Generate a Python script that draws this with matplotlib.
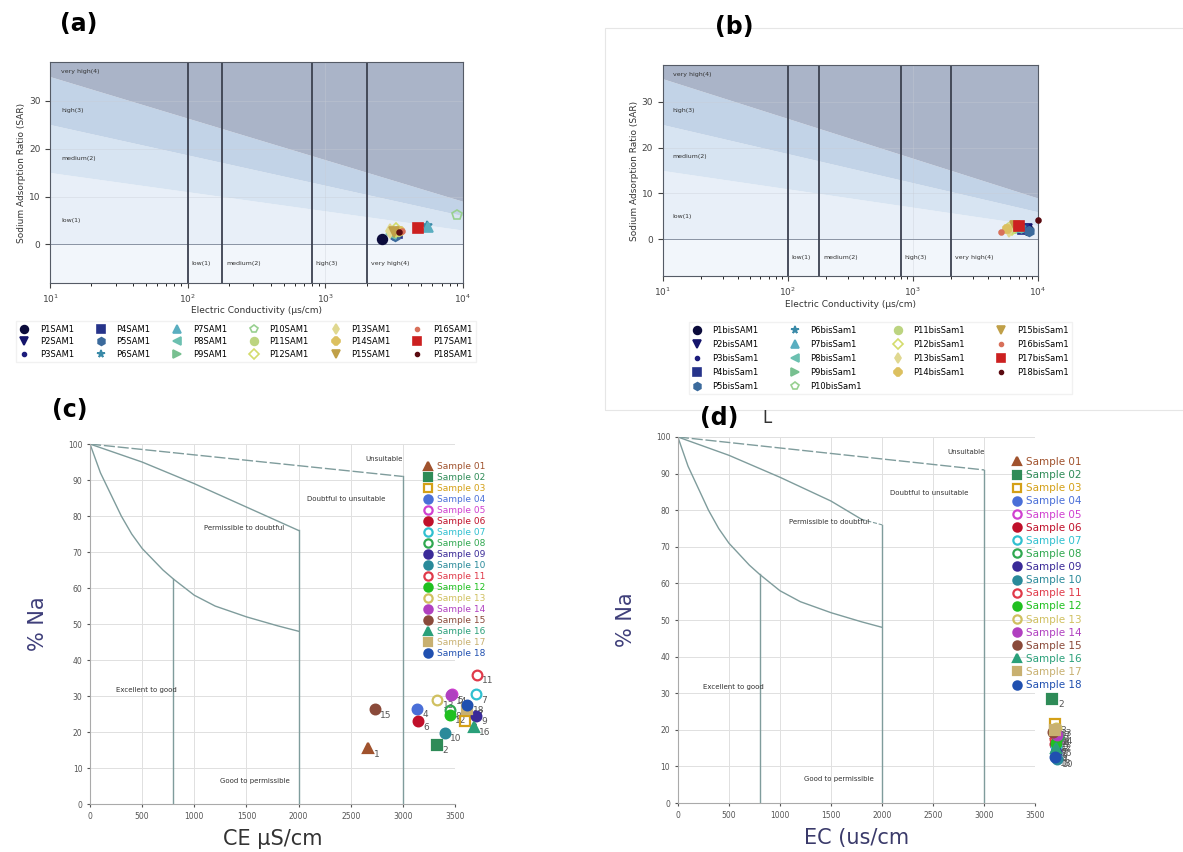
import matplotlib
matplotlib.use("Agg")
import matplotlib.pyplot as plt
from matplotlib.patches import Rectangle

# ---------------- data: SAR diagrams (a) and (b) ----------------
names_a = ["P1SAM1", "P2SAM1", "P3SAM1", "P4SAM1", "P5SAM1", "P6SAM1",
           "P7SAM1", "P8SAM1", "P9SAM1", "P10SAM1", "P11SAM1", "P12SAM1",
           "P13SAM1", "P14SAM1", "P15SAM1", "P16SAM1", "P17SAM1", "P18SAM1"]
ec_a = [2600, 3100, 2900, 3300, 3200, 5500, 5600, 3000, 3400,
        9100, 3350, 3250, 2950, 3500, 3150, 3600, 4700, 3450]
sar_a = [1.1, 2.0, 2.6, 2.3, 1.8, 3.9, 3.7, 2.2, 2.5,
         6.2, 2.9, 3.1, 2.9, 2.8, 2.7, 2.9, 3.5, 2.7]

names_b = ["P1bisSAM1", "P2bisSAM1", "P3bisSam1", "P4bisSam1", "P5bisSam1",
           "P6bisSam1", "P7bisSam1", "P8bisSam1", "P9bisSam1", "P10bisSam1",
           "P11bisSam1", "P12bisSam1", "P13bisSam1", "P14bisSam1",
           "P15bisSam1", "P16bisSam1", "P17bisSam1", "P18bisSam1"]
ec_b = [8300, 8100, 7900, 7600, 8500, 7300, 7000, 6800, 6500,
        6300, 6000, 6200, 5900, 5700, 6600, 5100, 7100, 10000]
sar_b = [2.0, 2.2, 2.4, 2.3, 1.9, 2.5, 2.6, 2.4, 2.2,
         2.3, 2.6, 2.4, 2.1, 2.3, 2.9, 1.5, 3.0, 4.3]

p_colors = ["#0b0b3b", "#14146b", "#1c1c7c", "#26338a", "#3b6a9c", "#3a8aa8",
            "#5aaec0", "#6cc0b0", "#78c090", "#98d090", "#bcd480", "#d4dc6c",
            "#e0d890", "#dcc060", "#c0a048", "#d8705a", "#cc2020", "#5a0a10"]
p_markers = ["o", "v", ".", "s", "h", "*", "^", "<", ">",
             "p", "o", "D", "d", "8", "v", ".", "s", "."]
p_hollow = [9, 11]

# salinity / sodium hazard class limits
class_ec = [100, 178, 800, 2000]
band_ec = [10, 10000]
sar_b1 = [15, 3]
sar_b2 = [25, 6]
sar_b3 = [35, 9]

# ---------------- data: Wilcox diagrams (c) and (d) ----------------
samples = ["Sample 01", "Sample 02", "Sample 03", "Sample 04", "Sample 05",
           "Sample 06", "Sample 07", "Sample 08", "Sample 09", "Sample 10",
           "Sample 11", "Sample 12", "Sample 13", "Sample 14", "Sample 15",
           "Sample 16", "Sample 17", "Sample 18"]
ec_c = [2670, 3330, 3600, 3140, 3470, 3145, 3700, 3450, 3700,
        3400, 3710, 3450, 3330, 3460, 2730, 3680, 3620, 3620]
na_c = [15.5, 16.5, 23.0, 26.5, 30.5, 23.0, 30.5, 26.0, 24.5,
        19.8, 35.8, 24.8, 29.0, 30.2, 26.3, 21.5, 26.5, 27.5]
ec_d = [3700, 3670, 3690, 3700, 3710, 3690, 3700, 3720, 3700,
        3710, 3690, 3700, 3700, 3710, 3680, 3700, 3690, 3690]
na_d = [19.0, 28.5, 21.5, 13.5, 17.0, 16.0, 15.5, 18.0, 14.0,
        12.0, 17.5, 16.5, 20.5, 18.5, 19.5, 15.0, 20.0, 12.5]

w_colors = ["#a0522d", "#2e8b57", "#d4a017", "#4a6fd8", "#d040d0", "#c0102a",
            "#30c0d0", "#30a850", "#3a2a98", "#2a8a9a", "#e03a4a", "#20c020",
            "#d0c060", "#b040c0", "#8a4a3a", "#2aa07a", "#c8b070", "#2050b0"]
w_markers = ["^", "s", "s", "o", "o", "o", "o", "o", "o",
             "o", "o", "o", "o", "o", "o", "^", "s", "o"]
w_hollow = [2, 4, 6, 7, 10, 12]

# Wilcox class boundaries
low_x = [0, 100, 200, 300, 400, 500, 600, 700, 800, 1000, 1200, 1500, 1800, 2000]
low_y = [100, 92, 86, 80, 75, 71, 68, 65, 62.5, 58, 55, 52, 49.5, 48]
mid_x = [0, 500, 1000, 1500, 2000]
mid_y = [100, 95, 89, 82.5, 76]
top_x = [0, 3000]
top_y = [100, 91]
vert_x = [800, 2000, 3000]
vert_top = [62.5, 76, 91]

fig = plt.figure(figsize=(11.83, 8.52), dpi=100)


def sar_panel(ax, ec, sar, names, leg_anchor, ncol, colspace, lsp):
    ax.set_xscale("log")
    ax.set_xlim(10, 10000)
    ax.set_ylim(-8, 38)
    ax.fill_between(band_ec, [-8, -8], [0, 0], color="#f2f6fb", lw=0)
    ax.fill_between(band_ec, [0, 0], sar_b1, color="#e8eff8", lw=0)
    ax.fill_between(band_ec, sar_b1, sar_b2, color="#d7e4f2", lw=0)
    ax.fill_between(band_ec, sar_b2, sar_b3, color="#c2d3e7", lw=0)
    ax.fill_between(band_ec, sar_b3, [38, 38], color="#aab4c8", lw=0)
    ax.grid(True, color="#c8ccd4", lw=0.5, alpha=0.5)
    ax.axhline(0, color="#8a93a3", lw=0.7)
    for x in class_ec:
        ax.axvline(x, color="#3c4150", lw=1.3)
    for txt, y in zip(["very high(4)", "high(3)", "medium(2)", "low(1)"], [36, 28, 18, 5]):
        ax.text(12, y, txt, fontsize=4.5, color="#333333", va="center")
    for txt, x in zip(["low(1)", "medium(2)", "high(3)", "very high(4)"], [106, 192, 850, 2150]):
        ax.text(x, -4, txt, fontsize=4.5, color="#333333", va="center")
    for i in range(len(names)):
        ax.plot(ec[i], sar[i], ls="none", marker=p_markers[i], ms=7,
                color=p_colors[i], mfc="none" if i in p_hollow else p_colors[i],
                mew=1.2, label=names[i], clip_on=False, zorder=5)
    ax.set_yticks([0, 10, 20, 30])
    ax.tick_params(labelsize=6.5, colors="#444444")
    ax.set_xlabel("Electric Conductivity (μs/cm)", fontsize=6.5, color="#333333", labelpad=1)
    ax.set_ylabel("Sodium Adsorption Ratio (SAR)", fontsize=6.5, color="#333333", labelpad=2)
    for s in ax.spines.values():
        s.set_color("#555b66")
    leg = ax.legend(loc="upper center", bbox_to_anchor=leg_anchor, ncol=ncol,
                    fontsize=6, frameon=True, edgecolor="#eeeeee", fancybox=False,
                    columnspacing=colspace, handlelength=1, handletextpad=1.4,
                    labelspacing=lsp, markerscale=0.8)
    return leg


def wilcox_panel(ax, ec, na, xlabel, xlabel_color, leg_anchor, leg_fs, leg_sp, dashed_mid):
    ax.set_xlim(0, 3500)
    ax.set_ylim(0, 100)
    ax.set_xticks([0, 500, 1000, 1500, 2000, 2500, 3000, 3500])
    ax.set_yticks(range(0, 101, 10))
    ax.grid(True, color="#e0e0e0", lw=0.7)
    for s in ["top", "right"]:
        ax.spines[s].set_visible(False)
    for s in ["left", "bottom"]:
        ax.spines[s].set_color("#aaaaaa")
        ax.spines[s].set_linewidth(0.8)
    ax.tick_params(labelsize=5.5, colors="#555555", length=2)
    lc = "#7f9c9c"
    ax.plot(low_x, low_y, color=lc, lw=1)
    if dashed_mid:
        ax.plot(mid_x[:-1] + [1800], mid_y[:-1] + [77.5], color=lc, lw=1)
        ax.plot([1800, 2000], [77.5, 76], color=lc, lw=0.8, ls="--")
    else:
        ax.plot(mid_x, mid_y, color=lc, lw=1)
    ax.plot(top_x, top_y, color=lc, lw=1, ls=(0, (8, 2)))
    for x, yt in zip(vert_x, vert_top):
        ax.plot([x, x], [0, yt], color=lc, lw=1)
    ax.text(2820, 95.8, "Unsuitable", fontsize=5, ha="center", va="center", color="#333333")
    ax.text(2460, 84.8, "Doubtful to unsuitable", fontsize=5, ha="center", va="center", color="#333333")
    ax.text(1480, 76.8, "Permissible to doubtful", fontsize=5, ha="center", va="center", color="#333333")
    ax.text(540, 31.7, "Excellent to good", fontsize=5, ha="center", va="center", color="#333333")
    ax.text(1580, 6.5, "Good to permissible", fontsize=5, ha="center", va="center", color="#333333")
    for i in range(len(samples)):
        ax.plot(ec[i], na[i], ls="none", marker=w_markers[i], ms=7,
                color=w_colors[i], mfc="none" if i in w_hollow else w_colors[i],
                mew=1.6, label=samples[i], clip_on=False, zorder=5)
        ax.annotate(str(i + 1), (ec[i], na[i]), xytext=(4, -6), textcoords="offset points",
                    fontsize=6.5, color="#555555", annotation_clip=False)
    ax.set_ylabel("% Na", fontsize=15, color="#3f3f7a", labelpad=14)
    ax.set_xlabel(xlabel, fontsize=15, color=xlabel_color, labelpad=6)
    leg = ax.legend(loc="upper left", bbox_to_anchor=leg_anchor, fontsize=leg_fs,
                    frameon=False, labelspacing=leg_sp, handlelength=1,
                    handletextpad=0.4, borderpad=0, borderaxespad=0, markerscale=0.85)
    for t, c in zip(leg.get_texts(), w_colors):
        t.set_color(c)


ax_a = fig.add_axes([0.0423, 0.668, 0.349, 0.259])
sar_panel(ax_a, ec_a, sar_a, names_a, (0.475, -0.155), 6, 2.7, 0.45)

ax_b = fig.add_axes([0.5604, 0.676, 0.317, 0.2477])
sar_panel(ax_b, ec_b, sar_b, names_b, (0.58, -0.2), 4, 3.8, 0.6)

ax_c = fig.add_axes([0.0761, 0.0563, 0.3085, 0.4225])
wilcox_panel(ax_c, ec_c, na_c, "CE µS/cm", "#333333", (0.915, 0.95), 6.5, 0.22, False)

ax_d = fig.add_axes([0.573, 0.0575, 0.302, 0.4296])
wilcox_panel(ax_d, ec_d, na_d, "EC (us/cm", "#3a3a6a", (0.935, 0.945), 7.5, 0.3, True)

# frame around panel (b)
fig.patches.append(Rectangle((605 / 1183, 1 - 410 / 852), 1, 382 / 852,
                             transform=fig.transFigure, fill=False,
                             edgecolor="#e6e6e6", lw=0.8))

fig.text(60 / 1183, 1 - 24 / 852, "(a)", fontsize=17, fontweight="bold", va="center")
fig.text(715 / 1183, 1 - 27 / 852, "(b)", fontsize=17, fontweight="bold", va="center")
fig.text(52 / 1183, 1 - 410 / 852, "(c)", fontsize=17, fontweight="bold", va="center")
fig.text(700 / 1183, 1 - 418 / 852, "(d)", fontsize=17, fontweight="bold", va="center")
fig.text(762 / 1183, 1 - 418 / 852, "L", fontsize=12, color="#333333", va="center")

fig.savefig("out.png", dpi=100)
